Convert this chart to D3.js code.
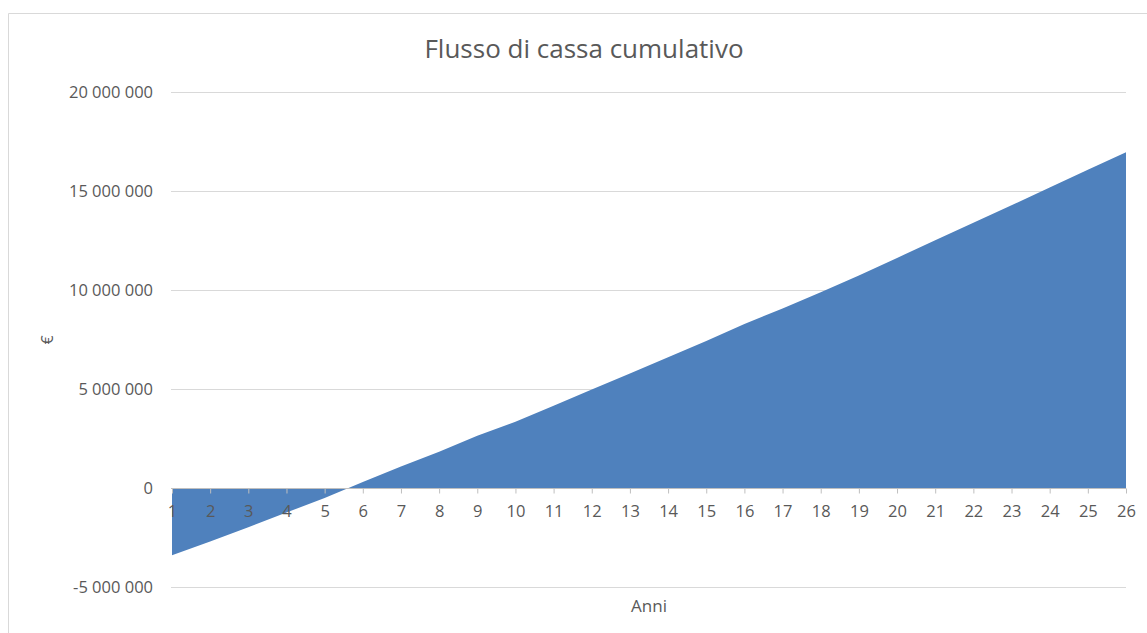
<!DOCTYPE html>
<html>
<head>
<meta charset="utf-8">
<script src="https://cdn.jsdelivr.net/npm/d3@7"></script>
<style>
body { margin: 0; background: #fff; }
text { font-family: "Open Sans", "Noto Sans", sans-serif; fill: #595959; }
</style>
</head>
<body>
<div></div>
<script>
var width = 1147;
var height = 633;

// dati
var anni = d3.range(1, 27);
var flusso = [-3400000, -2700000, -1980000, -1240000, -500000, 300000, 1080000, 1830000,
	2640000, 3350000, 4160000, 4970000, 5780000, 6600000, 7420000, 8280000, 9070000,
	9890000, 10730000, 11620000, 12510000, 13400000, 14280000, 15180000, 16070000, 16960000];
var yTicks = [-5000000, 0, 5000000, 10000000, 15000000, 20000000];
var titolo = "Flusso di cassa cumulativo";

var svg = d3.select("div")
	.append("svg")
	.attr("width", width)
	.attr("height", height);

// cornice
svg.append("path")
	.attr("d", "M8.5,640V13.5H1160")
	.attr("fill", "none")
	.attr("stroke", "#d9d9d9");

var x = d3.scaleLinear().domain([1, 26]).range([172, 1126]);
var y = d3.scaleLinear().domain([-5000000, 20000000]).range([587, 92]);

var fmt = v => d3.format(",")(v).replace(/,/g, " ").replace("−", "-");

// griglia
svg.append("g")
	.selectAll("line")
	.data(yTicks.filter(d => d != 0))
	.enter()
	.append("line")
	.attr("x1", 171)
	.attr("x2", 1126)
	.attr("y1", d => Math.round(y(d)) + 0.5)
	.attr("y2", d => Math.round(y(d)) + 0.5)
	.attr("stroke", "#d9d9d9")
	.attr("stroke-width", 1);

// etichette asse y
svg.append("g")
	.selectAll("text")
	.data(yTicks)
	.enter()
	.append("text")
	.attr("x", 153)
	.attr("y", d => y(d))
	.attr("dy", "0.35em")
	.attr("text-anchor", "end")
	.attr("font-size", 16.5)
	.text(fmt);

// area
var area = d3.area()
	.x((d, i) => x(anni[i]))
	.y0(y(0))
	.y1(d => y(d));

svg.append("path")
	.datum(flusso)
	.attr("d", area)
	.attr("fill", "#4f81bd");

// asse x
var xAxis = d3.axisBottom(x)
	.tickValues(anni)
	.tickFormat(d3.format("d"))
	.tickSize(5)
	.tickPadding(12);

var gx = svg.append("g")
	.attr("transform", "translate(0," + (Math.round(y(0)) + 0.5) + ")")
	.call(xAxis);
gx.selectAll("path, line").attr("stroke", "#bfbfbf");
gx.select(".domain").attr("d", "M171,0H1126");
gx.selectAll("text")
	.attr("font-size", 16.5)
	.attr("font-family", "'Open Sans', 'Noto Sans', sans-serif")
	.attr("fill", "#595959");

// titoli
svg.append("text")
	.attr("x", 584)
	.attr("y", 58)
	.attr("text-anchor", "middle")
	.attr("font-size", 26)
	.text(titolo);

svg.append("text")
	.attr("x", 649)
	.attr("y", 612)
	.attr("text-anchor", "middle")
	.attr("font-size", 17)
	.text("Anni");

svg.append("text")
	.attr("transform", "translate(53,340) rotate(-90)")
	.attr("text-anchor", "middle")
	.attr("font-size", 16)
	.text("€");
</script>
</body>
</html>
